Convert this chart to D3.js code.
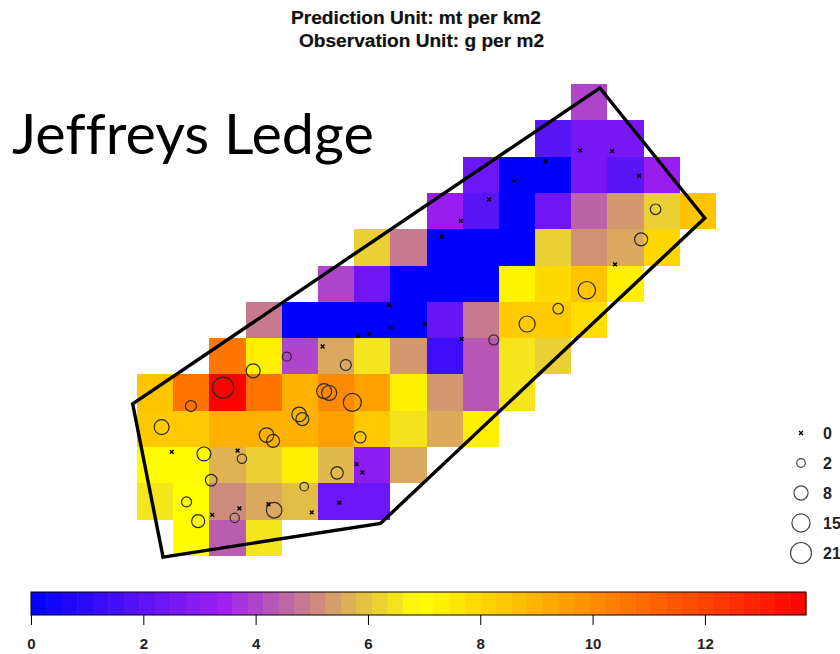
<html><head>
<title>Jeffreys Ledge</title>
<script src="https://d3js.org/d3.v7.min.js"></script>
<style>
  body { margin: 0; background: #fff; }
  svg { display: block; }
  .title { font-family: "Liberation Sans", Arial, sans-serif; font-weight: bold; font-size: 17.5px; fill: #111; stroke: #111; stroke-width: 0.2; }
  .big { font-family: Lato, sans-serif; font-size: 56px; fill: #000; font-variant-ligatures: none; }
  .axis text { font-family: "Liberation Sans", Arial, sans-serif; font-weight: bold; font-size: 15px; fill: #222; }
  .legendLabel { font-family: "Liberation Sans", Arial, sans-serif; font-weight: bold; font-size: 16px; fill: #222; }
</style>
</head>
<body>
<svg id="map" width="840" height="654"></svg>
<script>
  // cell values, one list per grid row, rowStart = first column of that row
  const rowStart = [12, 11, 9, 8, 6, 5, 3, 2, 0, 0, 0, 0, 1];
  const cellRows = [
    [4.0],
    [1.9, 2.6, 2.6],
    [2.3, 0, 0, 2.6, 1.9, 3.3],
    [3.3, 1.9, 0, 2.4, 4.5, 5.3, 6.15, 8.5],
    [6.15, 4.85, 0, 0, 0, 6.15, 5.2, 5.55, 8.0],
    [4.0, 2.4, 0, 0, 0, 7.2, 7.9, 8.5, 7.3],
    [4.85, 0, 0, 0, 0, 2.2, 4.85, 8.3, 8.3, 7.8],
    [10.6, 7.3, 4.0, 5.55, 6.5, 5.3, 1.3, 4.3, 6.5, 6.15],
    [8.5, 10.7, 13.8, 10.7, 9.0, 10.1, 9.5, 7.3, 5.3, 4.3, 6.5],
    [8.3, 8.4, 9.0, 9.0, 9.0, 9.5, 8.4, 6.45, 5.6, 7.3],
    [7.0, 7.0, 5.7, 6.15, 7.3, 5.8, 3.0, 5.55],
    [6.5, 6.9, 5.1, 5.55, 5.9, 2.3, 2.3],
    [7.0, 4.4, 6.5]
  ];

  // survey area outline, in grid units
  const outlineX = [-0.12, 12.79, 15.69, 6.73, 0.72];
  const outlineY = [8.81, 0.11, 3.69, 12.10, 13.03];

  // stations with catch, in grid units
  const catchX = [2.38, 3.21, 4.14, 5.77, 1.49, 0.68, 5.17, 5.31, 5.95, 4.48, 4.57, 3.58, 3.76, 6.17, 1.85, 2.90, 2.05, 5.53, 4.62, 1.37, 1.69, 2.70, 3.79, 14.33, 13.93, 12.43, 11.64, 10.78, 9.86];
  const catchY = [8.36, 7.90, 7.51, 7.74, 8.87, 9.45, 8.46, 8.51, 8.77, 9.10, 9.23, 9.67, 9.83, 9.73, 10.19, 10.32, 10.91, 10.71, 11.09, 11.51, 12.04, 11.95, 11.74, 3.45, 4.28, 5.68, 6.19, 6.61, 7.05];
  const catchVal = [21, 7.8, 2.3, 4.1, 4.1, 9.3, 9.3, 9.3, 14.6, 8.7, 6.5, 8.7, 6.5, 4.6, 7.8, 2.6, 4.8, 5.7, 2, 3.2, 6.5, 2.6, 10.3, 3.7, 6.5, 13.5, 3.7, 11, 3.2];

  // stations with nothing caught
  const zeroX = [0.96, 2.78, 5.13, 6.11, 6.41, 6.07, 6.23, 5.59, 4.83, 3.63, 2.83, 2.08, 6.97, 7.01, 7.96, 8.97, 8.42, 8.95, 9.73, 10.43, 11.29, 12.25, 13.13, 13.87, 13.21];
  const zeroY = [10.13, 10.10, 7.23, 6.94, 6.89, 10.47, 10.70, 11.53, 11.80, 11.57, 11.69, 11.87, 6.09, 6.71, 6.61, 7.02, 4.21, 3.77, 3.18, 2.67, 2.13, 1.83, 1.85, 2.53, 4.97];

  const legendVals = [0, 2, 8, 15, 21];
  const barTicks = [0, 2, 4, 6, 8, 10, 12];
  const barMax = 13.8;
  const barSteps = 50;
  const titleLines = ["Prediction Unit: mt per km2", "Observation Unit: g per m2"];

  const svg = d3.select("svg#map");

  // scales
  const xScale = d3.scaleLinear().domain([0, 16]).range([137, 716]);
  const yScale = d3.scaleLinear().domain([0, 13]).range([84, 556]);
  const colorScale = d3.scaleLinear()
    .domain([0, barMax / 4, barMax / 2, barMax])
    .range(["#0000ff", "#a020f0", "#ffff00", "#ff0000"]);
  const rScale = d3.scaleSqrt().domain([0, 21]).range([1.5, 10.5]);
  const barScale = d3.scaleLinear().domain([0, barMax]).range([31, 806]);
  const legendY = d3.scalePoint().domain(legendVals).range([433, 553]);

  // the reference is a slightly soft bitmap
  svg.append("defs").append("filter").attr("id", "soft")
    .append("feGaussianBlur").attr("stdDeviation", 0.45);

  const plot = svg.append("g").attr("filter", "url(#soft)");

  // grid cells
  cellRows.forEach((row, r) => {
    row.forEach((v, i) => {
      const c = rowStart[r] + i;
      plot.append("rect")
        .attr("x", xScale(c))
        .attr("y", yScale(r))
        .attr("width", xScale(c + 1) - xScale(c))
        .attr("height", yScale(r + 1) - yScale(r))
        .attr("shape-rendering", "crispEdges")
        .attr("fill", colorScale(v));
    });
  });

  // circles
  catchVal.forEach((v, i) => {
    plot.append("circle")
      .attr("cx", xScale(catchX[i]))
      .attr("cy", yScale(catchY[i]))
      .attr("r", rScale(v))
      .attr("fill", "none")
      .attr("stroke", "#2a2a2a")
      .attr("stroke-width", 1.2);
  });

  // zero stations
  const zeroMark = d3.symbol().type(d3.symbolTimes).size(11);
  zeroX.forEach((x, i) => {
    plot.append("path")
      .attr("d", zeroMark())
      .attr("transform", "translate(" + xScale(x) + "," + yScale(zeroY[i]) + ")")
      .attr("fill", "none")
      .attr("stroke", "#000")
      .attr("stroke-width", 1.4);
  });

  // outline
  const outline = d3.line().x(d => xScale(d[0])).y(d => yScale(d[1])).curve(d3.curveLinearClosed);
  plot.append("path")
    .attr("d", outline(d3.zip(outlineX, outlineY)))
    .attr("fill", "none")
    .attr("stroke", "#000")
    .attr("stroke-width", 3.4);

  // titles, stretched a bit like the reference
  svg.selectAll("text.title").data(titleLines).join("text")
    .attr("class", "title")
    .attr("x", (d, i) => i === 0 ? 416 : 421.5)
    .attr("y", (d, i) => i === 0 ? 23.5 : 47)
    .attr("text-anchor", "middle")
    .attr("textLength", (d, i) => i === 0 ? 250 : 245)
    .attr("lengthAdjust", "spacingAndGlyphs")
    .text(d => d);

  svg.append("text").attr("class", "big")
    .attr("x", 12).attr("y", 154)
    .attr("textLength", 362)
    .attr("lengthAdjust", "spacingAndGlyphs")
    .text("Jeffreys Ledge");

  // colour bar
  const stepWidth = (barScale(barMax) - barScale(0)) / barSteps;
  d3.range(barSteps).forEach(i => {
    svg.append("rect")
      .attr("x", barScale(0) + i * stepWidth)
      .attr("y", 592)
      .attr("width", stepWidth + 0.4)
      .attr("height", 23)
      .attr("fill", colorScale((i + 0.5) / barSteps * barMax));
  });
  svg.append("rect")
    .attr("x", barScale(0)).attr("y", 592)
    .attr("width", barScale(barMax) - barScale(0)).attr("height", 23)
    .attr("fill", "none").attr("stroke", "#000").attr("stroke-width", 1);

  let barAxis = d3.axisBottom(barScale).tickValues(barTicks).tickSize(10).tickPadding(13).tickFormat(d3.format("d"));
  svg.append("g")
    .attr("class", "axis")
    .attr("transform", "translate(0,615)")
    .call(barAxis)
    .call(g => g.select(".domain").remove());

  // size legend
  legendVals.forEach(v => {
    if (v === 0) {
      svg.append("path")
        .attr("d", zeroMark())
        .attr("transform", "translate(801," + legendY(v) + ")")
        .attr("fill", "none").attr("stroke", "#000").attr("stroke-width", 1.4);
    } else {
      svg.append("circle")
        .attr("cx", 801)
        .attr("cy", legendY(v))
        .attr("r", rScale(v))
        .attr("fill", "none").attr("stroke", "#444").attr("stroke-width", 1.2);
    }
    svg.append("text")
      .attr("class", "legendLabel")
      .attr("x", 823)
      .attr("y", legendY(v) + 6)
      .text(v);
  });
</script>
</body></html>
